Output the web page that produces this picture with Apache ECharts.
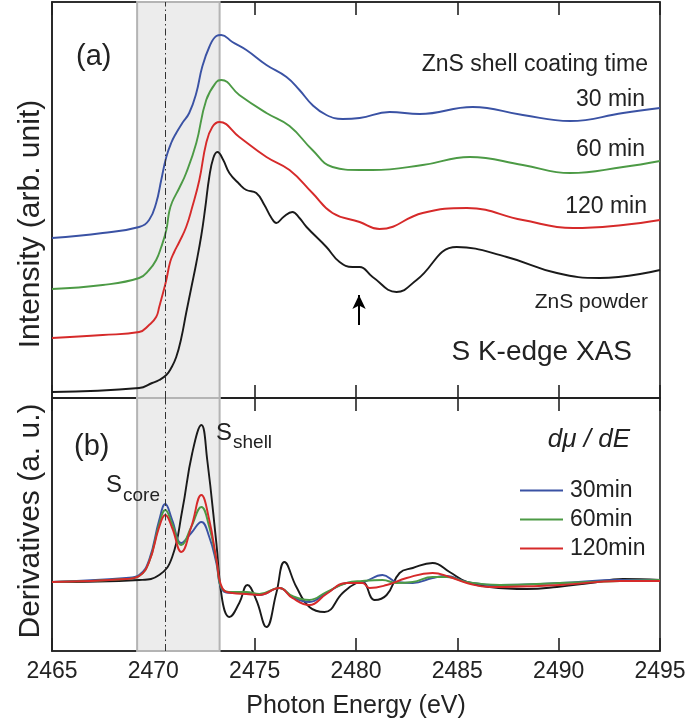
<!DOCTYPE html>
<html><head><meta charset="utf-8">
<script src="https://cdn.jsdelivr.net/npm/echarts@6/dist/echarts.min.js"></script>
<style>html,body{margin:0;padding:0;background:#fff}#c{width:685px;height:724px}</style>
</head><body><div id="c"></div>
<script>
// ---------- data (x = photon energy eV, y = arbitrary units) ----------
const xTicks = [2465, 2470, 2475, 2480, 2485, 2490, 2495];
const bandRange = [2469.2, 2473.27];
const coreLine = 2470.6;
const arrowX = 2480.15, arrowFrom = 7.3, arrowTo = 10.3;

// (a) XAS spectra (vertically offset)
const xas30 = [[2465,16.0],[2467.5,16.5],[2469.3,17.1],[2469.79,17.8],[2470.14,19.5],[2470.39,21.8],[2470.64,24.1],[2470.88,25.5],[2471.13,26.5],[2471.43,27.5],[2471.77,28.5],[2472.12,30.5],[2472.41,33.1],[2472.76,35.1],[2473.11,36.2],[2473.35,36.3],[2473.9,35.6],[2474.59,34.8],[2475.58,33.3],[2476.57,32.1],[2477.21,30.8],[2477.85,29.3],[2478.54,28.3],[2479.34,27.9],[2480.18,28.0],[2481.66,28.6],[2483.14,28.4],[2485.76,29.1],[2488.23,28.3],[2490.56,27.7],[2493.18,28.5],[2495,29.0]];
const xas60 = [[2465,10.9],[2467.5,11.3],[2469.3,12.0],[2469.79,12.8],[2470.14,13.8],[2470.39,15.1],[2470.64,16.8],[2470.78,18.6],[2470.93,19.6],[2471.28,21.0],[2471.62,22.5],[2472.12,25.5],[2472.61,29.8],[2473.11,31.6],[2473.35,31.8],[2474.24,30.3],[2475.58,28.5],[2476.72,27.2],[2477.85,24.8],[2478.84,23.1],[2480.18,22.8],[2480.82,22.8],[2483.29,23.3],[2485.61,24.1],[2488.23,23.3],[2490.56,22.5],[2493.18,23.1],[2495,23.7]];
const xas120 = [[2465,6.0],[2467.5,6.3],[2469.3,6.6],[2469.79,7.3],[2470.14,8.1],[2470.29,9.1],[2470.49,10.6],[2470.64,11.8],[2470.83,13.6],[2471.03,14.6],[2471.28,15.6],[2471.62,17.1],[2471.92,19.1],[2472.27,21.8],[2472.61,25.5],[2472.91,27.1],[2473.26,27.6],[2474.24,26.1],[2475.58,24.1],[2476.72,22.8],[2477.85,20.5],[2478.84,18.5],[2480.18,17.6],[2481.16,16.9],[2483.29,18.5],[2485.47,19.0],[2488.23,17.8],[2490.7,17.0],[2493.18,17.3],[2495,17.8]];
const xasPowder = [[2465,0.6],[2469.3,1.0],[2469.94,1.5],[2470.29,1.8],[2470.64,2.3],[2470.88,3.0],[2471.13,4.1],[2471.38,6.0],[2471.62,8.5],[2471.87,11.0],[2472.12,13.5],[2472.37,16.3],[2472.56,19.0],[2472.76,22.1],[2472.96,24.0],[2473.16,24.6],[2473.45,23.8],[2473.75,22.5],[2474.24,21.4],[2474.59,20.8],[2475.08,20.5],[2475.48,19.3],[2475.83,18.0],[2476.07,17.5],[2476.42,18.1],[2476.86,18.6],[2477.21,18.0],[2477.56,17.1],[2478.54,15.1],[2479.19,13.6],[2479.83,13.1],[2480.18,13.1],[2480.82,12.1],[2482.0,10.6],[2482.99,11.8],[2484.97,15.1],[2487.44,14.1],[2489.91,12.5],[2492.04,12.0],[2495,12.8]];

// (b) derivatives d(mu)/dE
const der30 = [[2465,0],[2468.66,0.4],[2469.3,0.7],[2469.79,2.2],[2470.29,6.2],[2470.59,7.8],[2470.93,6.2],[2471.38,3.9],[2471.87,4.9],[2472.37,6.0],[2472.76,4.5],[2473.11,1.9],[2473.4,-0.8],[2473.9,-1.1],[2474.59,-1.1],[2475.23,-1.3],[2476.22,-0.6],[2476.86,-1.5],[2477.7,-2.0],[2478.54,-1.1],[2479.53,-0.1],[2480.32,0],[2481.31,0.7],[2482.0,0],[2482.8,-0.1],[2483.78,0.4],[2484.48,0.6],[2485.47,0],[2487.1,-0.3],[2490.06,-0.1],[2493.03,0.2],[2495,0.2]];
const der60 = [[2465,0],[2468.66,0.3],[2469.3,0.6],[2469.79,2.0],[2470.29,5.8],[2470.59,7.2],[2470.93,5.8],[2471.38,3.7],[2471.87,5.5],[2472.37,7.5],[2472.76,5.5],[2473.11,2.2],[2473.4,-0.7],[2473.9,-1.0],[2474.59,-1.0],[2475.23,-1.2],[2476.22,-0.6],[2476.86,-1.4],[2477.7,-1.8],[2478.54,-1.0],[2479.53,-0.1],[2480.32,0.1],[2481.31,0.2],[2482.0,-0.1],[2482.8,0],[2483.78,0.5],[2484.48,0.5],[2485.47,0],[2487.1,-0.3],[2490.06,-0.1],[2493.03,0.1],[2495,0.2]];
const der120 = [[2465,0],[2468.66,0.3],[2469.3,0.6],[2469.79,2.0],[2470.29,5.5],[2470.59,6.7],[2470.93,5.4],[2471.38,3.0],[2471.87,5.5],[2472.37,8.7],[2472.76,6.2],[2473.11,2.3],[2473.4,-0.6],[2473.9,-1.1],[2474.59,-1.2],[2475.23,-1.3],[2476.22,-0.6],[2476.86,-1.6],[2477.7,-2.3],[2478.54,-1.2],[2479.53,-0.1],[2480.32,-0.1],[2480.67,-0.6],[2481.51,-0.3],[2482.5,0.4],[2483.78,0.9],[2484.62,0.5],[2485.47,-0.1],[2486.6,-0.5],[2490.06,-0.3],[2493.03,0.1],[2495,0.1]];
const derPowder = [[2465,0],[2469.3,0.2],[2470.29,0.7],[2470.93,2.5],[2471.43,7.2],[2471.92,12.9],[2472.37,15.7],[2472.66,12.2],[2473.11,3.9],[2473.4,-1.8],[2473.75,-3.5],[2474.24,-2.1],[2474.64,-0.3],[2475.08,-1.8],[2475.58,-4.5],[2476.07,-1.1],[2476.47,2.0],[2477.06,-0.5],[2477.7,-2.5],[2478.45,-3.0],[2479.34,-1.1],[2480.03,-0.1],[2480.32,0],[2480.92,-1.8],[2481.51,-1.3],[2482.15,0.9],[2482.8,1.4],[2483.78,1.9],[2484.62,1.0],[2485.47,0],[2486.6,-0.5],[2488.43,-0.7],[2489.91,-0.5],[2491.55,-0.1],[2493.18,0.3],[2495,0.2]];

// ---------- style ----------
const FONT = '"Liberation Sans", Arial, Helvetica, sans-serif';
const INK = '#222';
const C30 = '#3a52a4', C60 = '#4c9a45', C120 = '#d62a2a', CPOW = '#1a1a1a';

const chart = echarts.init(document.getElementById('c'), null, {renderer: 'canvas'});

function xAxisDef(gridIndex, position, showLabels, name) {
  return {
    type: 'value', gridIndex, position, min: xTicks[0], max: xTicks[xTicks.length - 1], interval: 5,
    axisLine: {show: true, onZero: false, lineStyle: {color: INK, width: 1.6}},
    axisTick: {show: true, inside: true, length: 13, lineStyle: {color: INK, width: 1.6}},
    splitLine: {show: false},
    axisLabel: {show: showLabels, fontSize: 23, color: INK, fontFamily: FONT, margin: 9,
      formatter: v => String(v), hideOverlap: false, showMinLabel: true, showMaxLabel: true},
    name: name || '', nameLocation: 'middle', nameGap: 43,
    nameTextStyle: {fontSize: 25, color: INK, fontFamily: FONT}
  };
}
function yAxisDef(gridIndex, min, max) {
  return {
    type: 'value', gridIndex, min, max,
    axisLine: {show: true, lineStyle: {color: INK, width: 1.6}},
    axisTick: {show: false}, axisLabel: {show: false}, splitLine: {show: false}
  };
}
function line(name, data, color, xi, yi) {
  return {name, type: 'line', data, xAxisIndex: xi, yAxisIndex: yi, smooth: 0.45,
    showSymbol: false, symbol: 'none', z: 3,
    lineStyle: {color, width: 1.9}, itemStyle: {color}};
}
function guides(xi, yi) {
  return {type: 'line', data: [], xAxisIndex: xi, yAxisIndex: yi, z: 1, silent: true,
    markArea: {silent: true, itemStyle: {color: '#ececec', borderColor: '#b4b4b4', borderWidth: 2},
      data: [[{xAxis: bandRange[0]}, {xAxis: bandRange[1]}]]},
    markLine: {silent: true, symbol: 'none', label: {show: false},
      lineStyle: {color: '#333', width: 1, type: [7, 3, 1.5, 3]},
      data: [{xAxis: coreLine}]}
  };
}

function txt(x, y, text, size, align, extra) {
  return {type: 'text', x, y, z: 10, silent: true,
    style: Object.assign({text, fill: INK, font: size + 'px ' + FONT, textAlign: align || 'left', textVerticalAlign: 'middle'}, extra || {})};
}

const powderTop = line('ZnS powder', xasPowder, CPOW, 0, 0);
powderTop.markLine = {silent: true, symbol: ['none', 'arrow'], symbolSize: [10, 14], label: {show: false},
  lineStyle: {color: '#000', width: 2, type: 'solid'},
  data: [[{coord: [arrowX, arrowFrom]}, {coord: [arrowX, arrowTo]}]]};

const gridCommon = {left: 52, right: 25, show: true, borderColor: INK, borderWidth: 1.6,
  backgroundColor: 'transparent', containLabel: false, outerBoundsMode: 'none'};

const option = {
  animation: false,
  backgroundColor: '#fff',
  textStyle: {fontFamily: FONT},
  grid: [
    Object.assign({top: 2, height: 396}, gridCommon),
    Object.assign({top: 398, height: 253}, gridCommon)
  ],
  xAxis: [
    xAxisDef(0, 'bottom', false),
    xAxisDef(0, 'top', false),
    xAxisDef(1, 'bottom', true, 'Photon Energy (eV)'),
    xAxisDef(1, 'top', false)
  ],
  yAxis: [yAxisDef(0, 0, 39.6), yAxisDef(1, -6.9, 18.4)],
  legend: {
    data: ['30min', '60min', '120min'], orient: 'vertical', left: 515, top: 474,
    itemWidth: 43, itemHeight: 20, itemGap: 6, icon: 'path://M0,9 L43,9 L43,11 L0,11 Z',
    textStyle: {fontSize: 23, color: INK, fontFamily: FONT, padding: [0, 0, 0, 2]},
    selectedMode: false
  },
  series: [
    guides(0, 0), guides(2, 1),
    line('30 min', xas30, C30, 0, 0),
    line('60 min', xas60, C60, 0, 0),
    line('120 min', xas120, C120, 0, 0),
    powderTop,
    line('powder', derPowder, CPOW, 2, 1),
    line('30min', der30, C30, 2, 1),
    line('60min', der60, C60, 2, 1),
    line('120min', der120, C120, 2, 1)
  ],
  graphic: [
    txt(31, 224, 'Intensity (arb. unit)', 30, 'center', {}),
    txt(31, 521, 'Derivatives (a. u.)', 30, 'center', {}),
    txt(76, 57, '(a)', 29),
    txt(648, 65, 'ZnS shell coating time', 23, 'right'),
    txt(645, 100, '30 min', 23, 'right'),
    txt(645, 150, '60 min', 23, 'right'),
    txt(647, 207, '120 min', 23, 'right'),
    txt(648, 302, 'ZnS powder', 21, 'right'),
    txt(632, 352, 'S K-edge XAS', 28, 'right'),
    txt(74, 447, '(b)', 29),
    txt(106, 485, 'S', 24),
    txt(123, 496, 'core', 19),
    txt(216, 433, 'S', 24),
    txt(233, 443, 'shell', 19),
    txt(630, 440, 'd\u03bc / dE', 26, 'right', {font: 'italic 26px ' + FONT})
  ]
};
option.graphic[0].rotation = Math.PI / 2;
option.graphic[1].rotation = Math.PI / 2;
chart.setOption(option);
</script></body></html>
